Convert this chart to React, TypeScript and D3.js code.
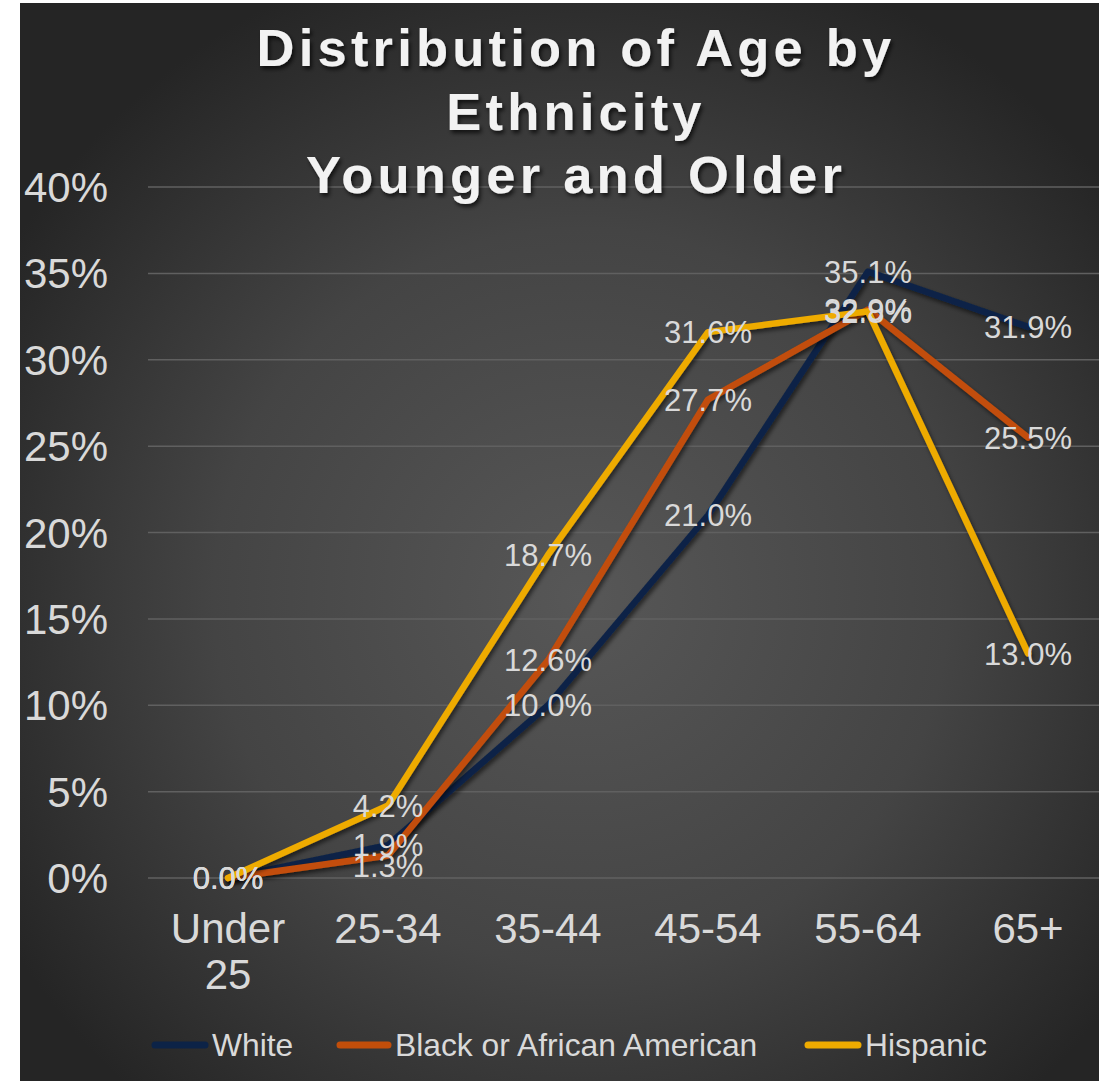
import React from "react";
import * as d3 from "d3";

const categories = ["Under 25", "25-34", "35-44", "45-54", "55-64", "65+"];
const seriesNames = ["White", "Black or African American", "Hispanic"];
const whiteValues = [0.0, 1.9, 10.0, 21.0, 35.1, 31.9];
const blackValues = [0.0, 1.3, 12.6, 27.7, 32.9, 25.5];
const hispanicValues = [0.0, 4.2, 18.7, 31.6, 32.8, 13.0];
const seriesColors = ["#0c2347", "#c24e0a", "#eeab00"];
const yTicks = [0, 5, 10, 15, 20, 25, 30, 35, 40];
const titleLines = ["Distribution of Age by", "Ethnicity", "Younger and Older"];

const W = 1099;
const H = 1081;
const FONT = "'Liberation Sans', Arial, sans-serif";

export default function App() {
  const series = [whiteValues, blackValues, hispanicValues];
  const x = d3.scaleBand<string>().domain(categories).range([148, 1108]);
  const y = d3.scaleLinear().domain([0, 40]).range([878, 187]);
  const cx = (c: string) => (x(c) ?? 0) + x.bandwidth() / 2;
  const line = d3
    .line<number>()
    .x((_, i) => cx(categories[i]))
    .y((v) => y(v));

  // Data label positions: centred on the point, with a lower label pushed
  // down when it partly collides with the one above it.
  const labels: { key: string; x: number; y: number; text: string }[] = [];
  categories.forEach((c, j) => {
    const items = series
      .map((vals, i) => ({ i, v: vals[j], y: y(vals[j]) }))
      .sort((a, b) => a.y - b.y);
    for (let k = 1; k < items.length; k++) {
      const gap = items[k].y - items[k - 1].y;
      if (gap > 5 && gap < 21) items[k].y = items[k - 1].y + 21;
    }
    items.forEach((it) =>
      labels.push({
        key: `${it.i}-${j}`,
        x: cx(c),
        y: it.y,
        text: it.v.toFixed(1) + "%",
      })
    );
  });

  const legendItems = [
    { sx: 152, tx: 212 },
    { sx: 337, tx: 395 },
    { sx: 805, tx: 865 },
  ];

  return (
    <svg
      width={W}
      height={H}
      style={{ position: "absolute", left: 0, top: 0, display: "block" }}
    >
      <defs>
        <radialGradient id="bg" cx="52%" cy="55%" r="62%">
          <stop offset="0%" stopColor="#575757" />
          <stop offset="55%" stopColor="#444444" />
          <stop offset="100%" stopColor="#252525" />
        </radialGradient>
        <filter id="lineShadow" x="-10%" y="-10%" width="120%" height="120%">
          <feDropShadow dx="2" dy="3" stdDeviation="2" floodColor="#000" floodOpacity="0.55" />
        </filter>
        <filter id="titleShadow" x="-10%" y="-20%" width="120%" height="140%">
          <feDropShadow dx="2" dy="3" stdDeviation="2" floodColor="#000" floodOpacity="0.7" />
        </filter>
      </defs>
      <rect x={0} y={0} width={W} height={H} fill="#ffffff" />
      <rect x={20} y={3} width={W - 20} height={H - 3} fill="url(#bg)" />

      {/* gridlines */}
      {yTicks.map((t) => (
        <line
          key={t}
          x1={148}
          x2={W}
          y1={y(t)}
          y2={y(t)}
          stroke="#606060"
          strokeWidth={1.5}
        />
      ))}

      {/* y axis labels */}
      {yTicks.map((t) => (
        <text
          key={t}
          x={108}
          y={y(t)}
          dy="0.36em"
          textAnchor="end"
          fontFamily={FONT}
          fontSize={42}
          fill="#d9d9d9"
        >
          {t + "%"}
        </text>
      ))}

      {/* x axis labels */}
      {categories.map((c) => {
        const parts = c === "Under 25" ? ["Under", "25"] : [c];
        return (
          <text
            key={c}
            x={cx(c)}
            y={943}
            textAnchor="middle"
            fontFamily={FONT}
            fontSize={42}
            fill="#d9d9d9"
          >
            {parts.map((p, i) => (
              <tspan key={i} x={cx(c)} dy={i === 0 ? 0 : 46}>
                {p}
              </tspan>
            ))}
          </text>
        );
      })}

      {/* series lines */}
      {series.map((vals, i) => (
        <path
          key={i}
          d={line(vals) ?? ""}
          fill="none"
          stroke={seriesColors[i]}
          strokeWidth={6.5}
          strokeLinejoin="round"
          strokeLinecap="round"
          filter="url(#lineShadow)"
        />
      ))}

      {/* data labels */}
      {labels.map((l) => (
        <text
          key={l.key}
          x={l.x}
          y={l.y}
          dy="0.36em"
          textAnchor="middle"
          fontFamily={FONT}
          fontSize={31}
          fill="#d9d9d9"
        >
          {l.text}
        </text>
      ))}

      {/* title */}
      <g filter="url(#titleShadow)">
        {titleLines.map((t, i) => (
          <text
            key={i}
            x={576}
            y={66 + i * 63.5}
            textAnchor="middle"
            fontFamily={FONT}
            fontWeight="bold"
            fontSize={52.5}
            letterSpacing={4.2}
            fill="#f2f2f2"
          >
            {t}
          </text>
        ))}
      </g>

      {/* legend */}
      {seriesNames.map((n, i) => (
        <g key={n}>
          <line
            x1={legendItems[i].sx + 3}
            x2={legendItems[i].tx - 7}
            y1={1045}
            y2={1045}
            stroke={seriesColors[i]}
            strokeWidth={7}
            strokeLinecap="round"
          />
          <text
            x={legendItems[i].tx}
            y={1045}
            dy="0.36em"
            fontFamily={FONT}
            fontSize={31.8}
            fill="#d9d9d9"
          >
            {n}
          </text>
        </g>
      ))}
    </svg>
  );
}
